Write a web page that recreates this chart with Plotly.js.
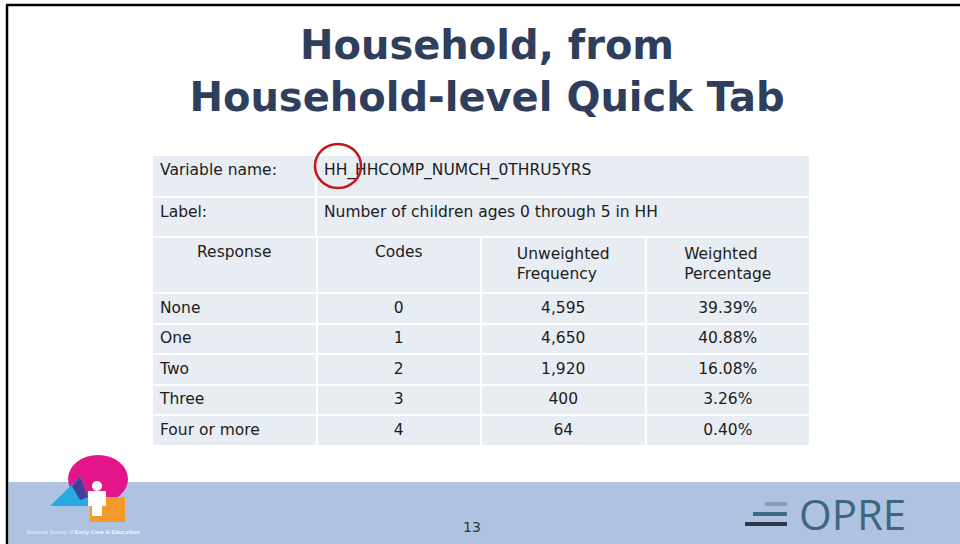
<!DOCTYPE html>
<html>
<head>
<meta charset="utf-8">
<script src="https://cdn.plot.ly/plotly-3.0.1.min.js"></script>
<style>
  html, body { margin: 0; padding: 0; background: #fff; }
  #slide { width: 960px; height: 544px; }
</style>
</head>
<body>
<div id="slide"></div>
<script>
/* Household-level quick tab: number of children 0-5 in HH */
var varName = 'HH_HHCOMP_NUMCH_0THRU5YRS';
var varLabel = 'Number of children ages 0 through 5 in HH';
var headers = ['Response', 'Codes', 'Unweighted<br>Frequency', 'Weighted<br>Percentage'];
var responses = ['None', 'One', 'Two', 'Three', 'Four or more'];
var codes = [0, 1, 2, 3, 4];
var unweightedFreq = [4595, 4650, 1920, 400, 64];
var weightedPct = [39.39, 40.88, 16.08, 3.26, 0.40];

var W = 960, H = 544;
var FILL = '#e8ecf3', INK = '#1c1c1c', FONT = 'DejaVu Sans';
function px(x) { return x / W; }
function py(y) { return 1 - y / H; }
function fmtInt(v) { return v.toString().replace(/\B(?=(\d{3})+(?!\d))/g, ','); }

var cellFont = { family: FONT, size: 15.5, color: INK };

var topTable = {
  type: 'table',
  domain: { x: [px(152), px(810)], y: [py(240), py(155)] },
  columnwidth: [164, 494],
  header: {
    values: ['Variable name:', varName],
    align: 'left', height: 42,
    fill: { color: FILL }, line: { color: '#fff', width: 2 }, font: cellFont
  },
  cells: {
    values: [['Label:'], [varLabel]],
    align: 'left', height: 40,
    fill: { color: FILL }, line: { color: '#fff', width: 2 }, font: cellFont
  }
};

var mainTable = {
  type: 'table',
  domain: { x: [px(152), px(810)], y: [py(449), py(237)] },
  columnwidth: [1, 1, 1, 1],
  header: {
    values: headers,
    align: 'center', height: 56,
    fill: { color: FILL }, line: { color: '#fff', width: 2 }, font: cellFont
  },
  cells: {
    values: [
      responses,
      codes.map(String),
      unweightedFreq.map(fmtInt),
      weightedPct.map(function (v) { return v.toFixed(2) + '%'; })
    ],
    align: ['left', 'center', 'center', 'center'], height: 30.5,
    fill: { color: FILL }, line: { color: '#fff', width: 2 }, font: cellFont
  }
};

var shapes = [
  /* slide frame (left + top) */
  { type: 'line', xref: 'paper', yref: 'paper', x0: px(7), x1: px(7), y0: py(5), y1: 0, line: { color: '#000', width: 2.5 } },
  { type: 'line', xref: 'paper', yref: 'paper', x0: px(6), x1: 1, y0: py(5), y1: py(5), line: { color: '#000', width: 2.5 } },
  /* footer band */
  { type: 'rect', xref: 'paper', yref: 'paper', x0: px(8.5), x1: 1, y0: 0, y1: py(482), fillcolor: '#afc3e1', line: { width: 0 }, layer: 'below' },
  /* red highlight circle */
  { type: 'circle', xref: 'paper', yref: 'paper', x0: px(315), x1: px(361), y0: py(188), y1: py(144), line: { color: '#c0161b', width: 2.5 } },
  /* NSECE logo pieces */
  { type: 'circle', xref: 'paper', yref: 'paper', x0: px(68), x1: px(128), y0: py(503), y1: py(455), fillcolor: '#e2168a', line: { width: 0 } },
  { type: 'path', xref: 'paper', yref: 'paper', path: 'M ' + px(50) + ' ' + py(506) + ' L ' + px(80) + ' ' + py(477) + ' L ' + px(92) + ' ' + py(506) + ' Z', fillcolor: '#28a9e0', line: { width: 0 } },
  { type: 'path', xref: 'paper', yref: 'paper', path: 'M ' + px(72) + ' ' + py(486) + ' L ' + px(80) + ' ' + py(477) + ' L ' + px(88) + ' ' + py(497) + ' L ' + px(80) + ' ' + py(500) + ' Z', fillcolor: '#3f3f9a', line: { width: 0 } },
  { type: 'rect', xref: 'paper', yref: 'paper', x0: px(90), x1: px(125), y0: py(522), y1: py(497), fillcolor: '#f39a2b', line: { width: 0 } },
  { type: 'circle', xref: 'paper', yref: 'paper', x0: px(92), x1: px(102), y0: py(491), y1: py(481), fillcolor: '#fff', line: { width: 0 } },
  { type: 'rect', xref: 'paper', yref: 'paper', x0: px(88), x1: px(106), y0: py(506), y1: py(491), fillcolor: '#fff', line: { width: 0 } },
  { type: 'rect', xref: 'paper', yref: 'paper', x0: px(92), x1: px(102), y0: py(516), y1: py(506), fillcolor: '#fff', line: { width: 0 } },
  /* OPRE bars */
  { type: 'rect', xref: 'paper', yref: 'paper', x0: px(765), x1: px(787), y0: py(506), y1: py(502), fillcolor: '#86a3b6', line: { width: 0 } },
  { type: 'rect', xref: 'paper', yref: 'paper', x0: px(753), x1: px(787), y0: py(516), y1: py(512), fillcolor: '#3e6b86', line: { width: 0 } },
  { type: 'rect', xref: 'paper', yref: 'paper', x0: px(745), x1: px(787), y0: py(526), y1: py(522), fillcolor: '#28394c', line: { width: 0 } }
];

var annotations = [
  { xref: 'paper', yref: 'paper', x: px(472), y: py(527), text: '13', showarrow: false, xanchor: 'center', yanchor: 'middle', font: { family: FONT, size: 14, color: '#333' } },
  { xref: 'paper', yref: 'paper', x: px(797), y: py(513), text: 'OPRE', showarrow: false, xanchor: 'left', yanchor: 'middle', font: { family: 'Open Sans', size: 42, color: '#3b6781' } },
  { xref: 'paper', yref: 'paper', x: px(25), y: py(532), text: 'National Survey of <b>Early Care & Education</b>', showarrow: false, xanchor: 'left', yanchor: 'middle', font: { family: FONT, size: 5, color: '#eef3fa' } }
];

var layout = {
  width: W, height: H,
  margin: { l: 0, r: 0, t: 0, b: 0 },
  paper_bgcolor: '#fff',
  showlegend: false,
  title: {
    text: 'Household, from<br>Household-level Quick Tab',
    x: px(487), xanchor: 'center', y: py(59), yanchor: 'middle',
    font: { family: FONT, size: 40, color: '#2f3e5c', weight: 'bold' }
  },
  shapes: shapes,
  annotations: annotations
};

Plotly.newPlot('slide', [topTable, mainTable], layout, { displayModeBar: false, staticPlot: true });
</script>
</body>
</html>
